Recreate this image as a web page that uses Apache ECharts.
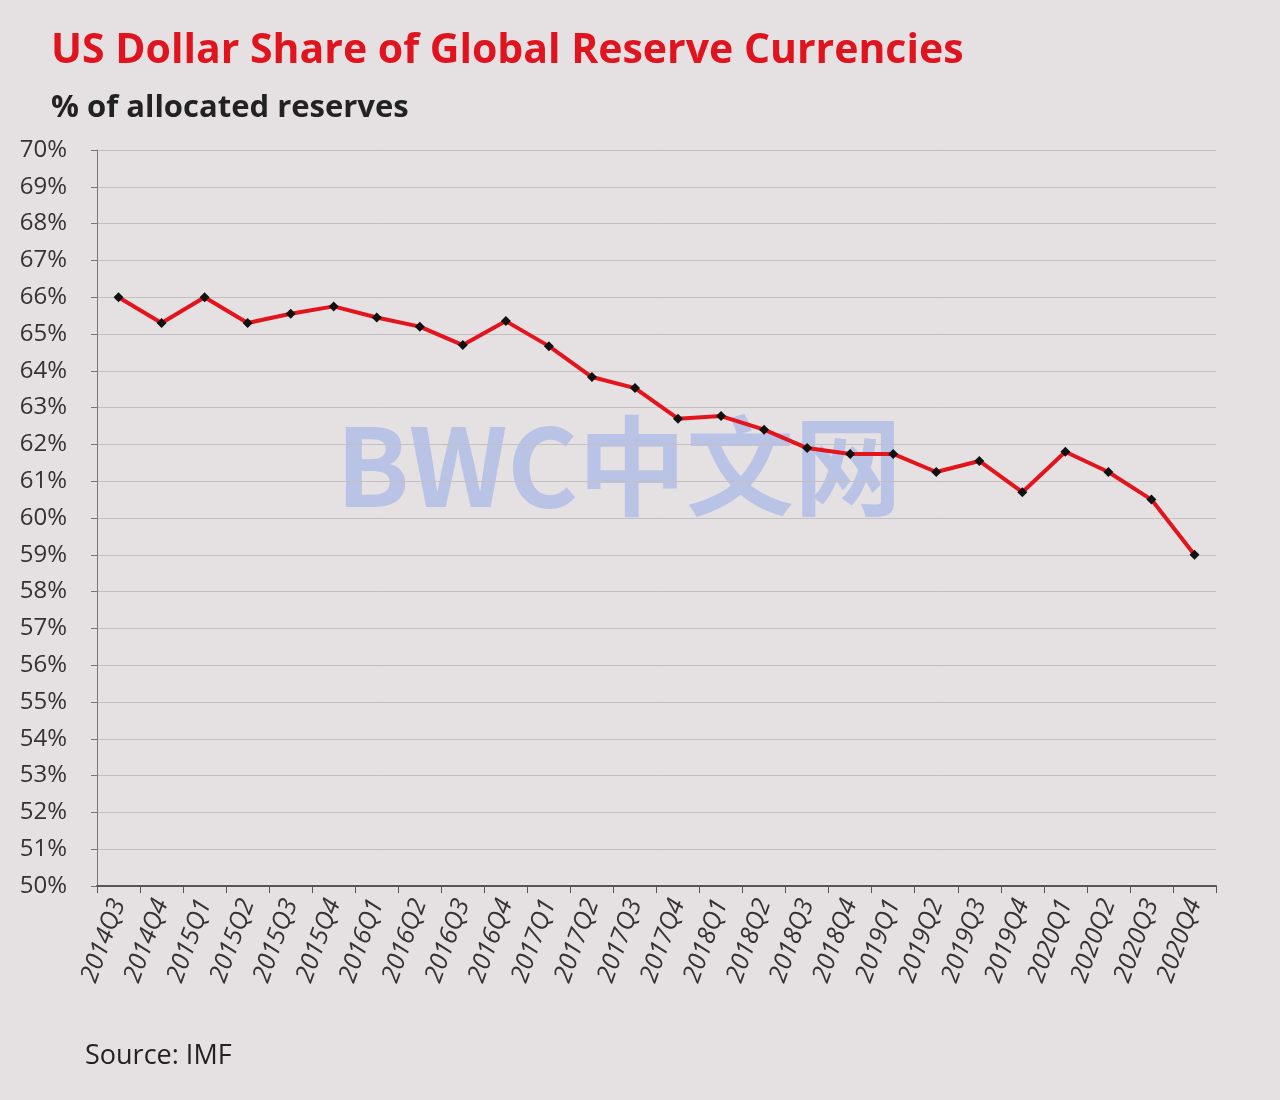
<!DOCTYPE html>
<html>
<head>
<meta charset="utf-8">
<script src="https://cdn.jsdelivr.net/npm/echarts@6/dist/echarts.min.js"></script>
<style>
  html, body { margin: 0; padding: 0; background: #e5e1e3; }
  #chart { width: 1280px; height: 1100px; }
</style>
</head>
<body>
<div id="chart"></div>
<script>
// 数据
const quarters = ['2014Q3', '2014Q4', '2015Q1', '2015Q2', '2015Q3', '2015Q4', '2016Q1', '2016Q2',
    '2016Q3', '2016Q4', '2017Q1', '2017Q2', '2017Q3', '2017Q4', '2018Q1', '2018Q2', '2018Q3',
    '2018Q4', '2019Q1', '2019Q2', '2019Q3', '2019Q4', '2020Q1', '2020Q2', '2020Q3', '2020Q4'];
const usdShare = [66.0, 65.3, 66.0, 65.3, 65.55, 65.75, 65.45, 65.2, 64.7, 65.35, 64.67, 63.83,
    63.53, 62.7, 62.77, 62.4, 61.9, 61.74, 61.74, 61.25, 61.55, 60.7, 61.8, 61.25, 60.5, 59.0];

function initChart() {
    const chart = echarts.init(document.getElementById('chart'));
    const font = 'Open Sans, DejaVu Sans, sans-serif';
    const option = {
        backgroundColor: '#e5e1e3',
        title: [
            { text: 'US Dollar Share of Global Reserve Currencies', left: 46, top: 26,
              textStyle: { color: '#e0141e', fontSize: 41, fontWeight: 'bold', fontFamily: font } },
            { text: '% of allocated reserves', left: 46, top: 88,
              textStyle: { color: '#222', fontSize: 31, fontWeight: 'bold', fontFamily: font } },
            { text: 'Source: IMF', left: 80, top: 1038,
              textStyle: { color: '#222', fontSize: 27, fontWeight: 'normal', fontFamily: font } }
        ],
        graphic: [{
            type: 'text', left: 336, top: 412,
            style: { text: 'BWC中文网', fontSize: 108, fontWeight: 'bold',
                     fill: 'rgba(120,150,235,0.4)', fontFamily: 'Noto Sans CJK SC, sans-serif' }
        }],
        grid: { left: 97, right: 64, top: 150, bottom: 214 },
        xAxis: {
            type: 'category',
            data: quarters,
            boundaryGap: true,
            axisLine: { lineStyle: { color: '#555', width: 2 } },
            axisTick: { show: true, length: 7, lineStyle: { color: '#555' } },
            axisLabel: { rotate: 70, color: '#333', fontSize: 25, fontStyle: 'italic',
                         fontFamily: font, margin: 14 }
        },
        yAxis: {
            type: 'value',
            min: 50, max: 70, interval: 1,
            axisLine: { show: true, lineStyle: { color: '#777' } },
            axisTick: { show: true, length: 6, lineStyle: { color: '#777' } },
            axisLabel: { formatter: '{value}%', color: '#333', fontSize: 24, fontFamily: font, margin: 30 },
            splitLine: { lineStyle: { color: '#c4c0c2' } }
        },
        series: [{
            type: 'line',
            data: usdShare,
            symbol: 'diamond',
            symbolSize: 10,
            itemStyle: { color: '#111' },
            lineStyle: { color: '#e3141c', width: 4 },
            z: 3
        }]
    };
    chart.setOption(option);
}

document.addEventListener('DOMContentLoaded', initChart);
</script>
</body>
</html>
